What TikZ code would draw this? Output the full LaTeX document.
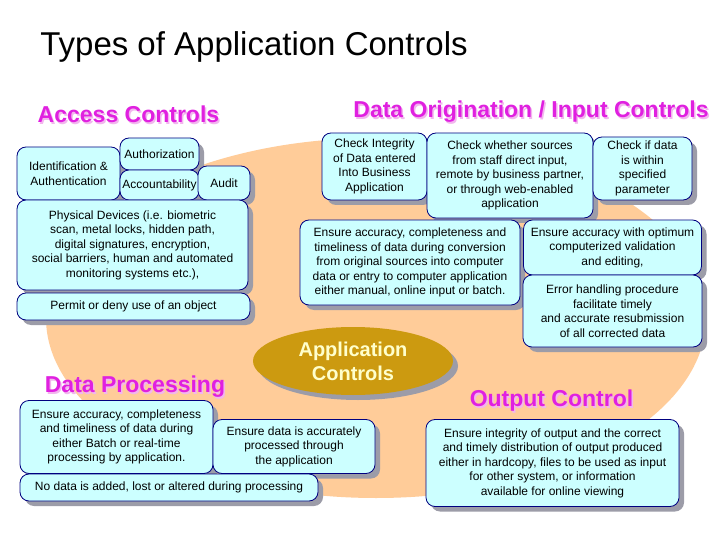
\documentclass[tikz,border=0pt]{standalone}
\usepackage{fontspec}
\setmainfont{Liberation Sans}
\usetikzlibrary{positioning, shapes.geometric, shadows}
\definecolor{peach}{HTML}{FFCC99}
\definecolor{boxfill}{HTML}{CCFFFF}
\definecolor{boxborder}{HTML}{000080}
\definecolor{shadowgrey}{HTML}{9C9CA8}
\definecolor{headpink}{HTML}{E020E0}
\definecolor{headshade}{HTML}{F2B6EE}
\definecolor{appgold}{HTML}{CC9A10}
\definecolor{appyellow}{HTML}{FFFFCC}

\tikzset{
  ctlbox/.style={fill=boxfill, draw=boxborder, line width=0.8pt, rounded corners=9pt,
    align=center, inner sep=1pt, font=\fontsize{12}{14.5}\selectfont,
    drop shadow={shadow xshift=5pt, shadow yshift=-5pt, fill=shadowgrey, opacity=1}},
  heading/.style={text=headpink, font=\fontsize{23}{26}\selectfont\bfseries, anchor=base, inner sep=0pt},
  headshadow/.style={heading, text=headshade},
  appbubble/.style={ellipse, fill=appgold, text=appyellow, align=center, inner sep=0pt,
    font=\fontsize{20}{24}\selectfont\bfseries,
    drop shadow={shadow xshift=5pt, shadow yshift=-5pt, fill=shadowgrey, opacity=1}}
}

\begin{document}
\begin{tikzpicture}[x=1pt, y=-1pt]
  \fill[white] (0,0) rectangle (720,540);
  \useasboundingbox (0,0) rectangle (720,540);

  % background blob
  \fill[peach] (376,318) ellipse [x radius=330pt, y radius=180pt];

  % title
  \node[anchor=base, inner sep=0pt, font=\fontsize{33}{36}\selectfont] (title) at (254,56) {Types of Application Controls};

  % centre bubble
  \node[appbubble, minimum width=200pt, minimum height=68pt] (appctl) at (353,361) {Application\\Controls};

  % headings
  \node[headshadow] (accessheadsh) at (130,124.5) {Access Controls};
  \node[heading] (accesshead) at (128.5,123) {Access Controls};
  \node[headshadow] (inputheadsh) at (532.5,119.5) {Data Origination / Input Controls};
  \node[heading] (inputhead) at (531,118) {Data Origination / Input Controls};
  \node[headshadow] (procheadsh) at (136.5,394) {Data Processing};
  \node[heading] (prochead) at (135,392.5) {Data Processing};
  \node[headshadow] (outheadsh) at (553,408) {Output Control};
  \node[heading] (outhead) at (551.5,406.5) {Output Control};

  % access controls
  \node[ctlbox, minimum width=103pt, minimum height=53pt] (ident) at (68.5,173.5) {Identification \&\\Authentication};
  \node[ctlbox, minimum width=79pt, minimum height=32pt] (authz) at (159.5,154) {Authorization};
  \node[ctlbox, minimum width=79pt, minimum height=30pt] (acct) at (159.5,185) {Accountability};
  \node[ctlbox, minimum width=52pt, minimum height=34pt] (audit) at (224,183) {Audit};
  \node[ctlbox, minimum width=231pt, minimum height=90pt] (phys) at (132.5,245) {Physical Devices (i.e. biometric\\scan, metal locks, hidden path,\\digital signatures, encryption,\\social barriers, human and automated\\monitoring systems etc.),};
  \node[ctlbox, minimum width=233pt, minimum height=27pt] (permit) at (133.5,306.5) {Permit or deny use of an object};

  % input controls
  \node[ctlbox, minimum width=105pt, minimum height=67pt] (integ) at (374.5,166.5) {Check Integrity\\of Data entered\\Into Business\\Application};
  \node[ctlbox, minimum width=166pt, minimum height=85pt] (sources) at (510,175.5) {Check whether sources\\from staff direct input,\\remote by business partner,\\or through web-enabled\\application};
  \node[ctlbox, minimum width=99pt, minimum height=63pt] (within) at (642.5,168.5) {Check if data\\is within\\specified\\parameter};
  \node[ctlbox, minimum width=220pt, minimum height=85pt] (convert) at (410,262.5) {Ensure accuracy, completeness and\\timeliness of data during conversion\\from original sources into computer\\data or entry to computer application\\either manual, online input or batch.};
  \node[ctlbox, minimum width=178pt, minimum height=55pt] (optimum) at (612.5,247.5) {Ensure accuracy with optimum\\computerized validation\\and editing,};
  \node[ctlbox, minimum width=179pt, minimum height=72pt] (errorh) at (612.5,311) {Error handling procedure\\facilitate timely\\and accurate resubmission\\of all corrected data};

  % processing
  \node[ctlbox, minimum width=193pt, minimum height=73pt] (batch) at (116.5,437) {Ensure accuracy, completeness\\and timeliness of data during\\either Batch or real-time\\processing by application.};
  \node[ctlbox, minimum width=162pt, minimum height=54pt] (accurate) at (294,446.5) {Ensure data is accurately\\processed through\\the application};
  \node[ctlbox, minimum width=298pt, minimum height=27pt] (nodata) at (169,487.5) {No data is added, lost or altered during processing};

  % output
  \node[ctlbox, minimum width=253pt, minimum height=87pt] (output) at (552.5,463) {Ensure integrity of output and the correct\\and timely distribution of output produced\\either in hardcopy, files to be used as input\\for other system, or information\\available for online viewing};
\end{tikzpicture}
\end{document}
